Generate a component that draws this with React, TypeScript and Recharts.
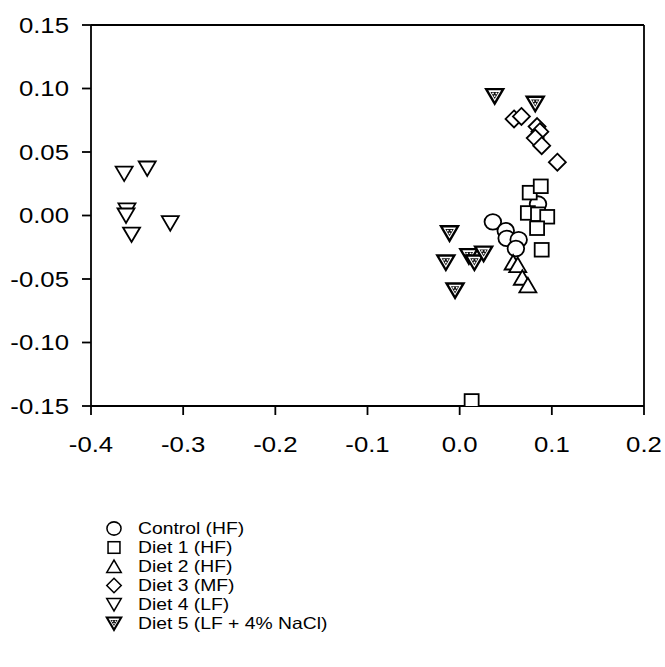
import { ScatterChart, Scatter, XAxis, YAxis, ReferenceLine } from 'recharts';

const controlHF = [
  { x: 0.036, y: -0.005 },
  { x: 0.05, y: -0.012 },
  { x: 0.051, y: -0.018 },
  { x: 0.064, y: -0.019 },
  { x: 0.061, y: -0.026 },
  { x: 0.085, y: 0.009 },
];
const diet1 = [
  { x: 0.076, y: 0.018 },
  { x: 0.088, y: 0.023 },
  { x: 0.074, y: 0.002 },
  { x: 0.085, y: 0.001 },
  { x: 0.095, y: -0.001 },
  { x: 0.084, y: -0.01 },
  { x: 0.089, y: -0.027 },
  { x: 0.013, y: -0.146 },
];
const diet2 = [
  { x: 0.058, y: -0.037 },
  { x: 0.063, y: -0.039 },
  { x: 0.068, y: -0.049 },
  { x: 0.074, y: -0.055 },
];
const diet3 = [
  { x: 0.059, y: 0.076 },
  { x: 0.067, y: 0.078 },
  { x: 0.084, y: 0.07 },
  { x: 0.087, y: 0.066 },
  { x: 0.082, y: 0.061 },
  { x: 0.089, y: 0.055 },
  { x: 0.106, y: 0.042 },
];
const diet4 = [
  { x: -0.364, y: 0.033 },
  { x: -0.339, y: 0.037 },
  { x: -0.361, y: 0.004 },
  { x: -0.362, y: 0.0 },
  { x: -0.356, y: -0.015 },
  { x: -0.314, y: -0.006 },
];
const diet5 = [
  { x: 0.038, y: 0.094 },
  { x: 0.082, y: 0.088 },
  { x: -0.011, y: -0.014 },
  { x: -0.015, y: -0.037 },
  { x: -0.005, y: -0.059 },
  { x: 0.01, y: -0.032 },
  { x: 0.016, y: -0.037 },
  { x: 0.026, y: -0.03 },
];

const xTicks = [-0.4, -0.3, -0.2, -0.1, 0, 0.1, 0.2];
const yTicks = [-0.15, -0.1, -0.05, 0, 0.05, 0.1, 0.15];

const FONT = '"Liberation Sans", Arial, Helvetica, sans-serif';
const STRETCH = 1.17;

type Kind = 'circle' | 'square' | 'up' | 'diamond' | 'down' | 'salt';

function Marker({ kind, cx, cy }: { kind: Kind; cx: number; cy: number }) {
  const s = { fill: '#fff', stroke: '#000', strokeWidth: 1.8 };
  if (kind === 'circle') return <ellipse cx={cx} cy={cy} rx={8.3} ry={7.8} {...s} />;
  if (kind === 'square') return <rect x={cx - 7} y={cy - 6.8} width={14} height={13.6} {...s} />;
  if (kind === 'up')
    return <polygon points={`${cx - 8.5},${cy + 7} ${cx + 8.5},${cy + 7} ${cx},${cy - 7.5}`} {...s} />;
  if (kind === 'diamond')
    return <polygon points={`${cx},${cy - 8.5} ${cx + 8.5},${cy} ${cx},${cy + 8.5} ${cx - 8.5},${cy}`} {...s} />;
  if (kind === 'down')
    return <polygon points={`${cx - 8.5},${cy - 7} ${cx + 8.5},${cy - 7} ${cx},${cy + 7.5}`} {...s} />;
  return (
    <g>
      <polygon
        points={`${cx - 8.5},${cy - 7} ${cx + 8.5},${cy - 7} ${cx},${cy + 7.5}`}
        fill="#fff"
        stroke="#000"
        strokeWidth={2.4}
      />
      <polygon points={`${cx - 4.2},${cy - 4.2} ${cx + 4.2},${cy - 4.2} ${cx},${cy + 3}`} fill="#111" />
      <circle cx={cx - 1.7} cy={cy - 2.7} r={0.9} fill="#fff" />
      <circle cx={cx + 1.7} cy={cy - 2.7} r={0.9} fill="#fff" />
      <circle cx={cx} cy={cy} r={0.9} fill="#fff" />
    </g>
  );
}

const shape = (kind: Kind) => (p: any) => <Marker kind={kind} cx={p.cx} cy={p.cy} />;

// the source figure's text is a bit wider than it is tall
function Tick(props: any) {
  const { x, y, payload, textAnchor, digits, axis } = props;
  const label = Number(payload.value).toFixed(digits);
  return (
    <text
      transform={`translate(${x},${y}) scale(${STRETCH},1)`}
      textAnchor={textAnchor}
      dy={axis === 'x' ? '0.71em' : '0.355em'}
      fill="#000"
      fontSize={22}
      fontFamily={FONT}
    >
      {label}
    </text>
  );
}

const series: { name: string; data: { x: number; y: number }[]; kind: Kind }[] = [
  { name: 'Control (HF)', data: controlHF, kind: 'circle' },
  { name: 'Diet 1 (HF)', data: diet1, kind: 'square' },
  { name: 'Diet 2 (HF)', data: diet2, kind: 'up' },
  { name: 'Diet 3 (MF)', data: diet3, kind: 'diamond' },
  { name: 'Diet 4 (LF)', data: diet4, kind: 'down' },
  { name: 'Diet 5 (LF + 4% NaCl)', data: diet5, kind: 'salt' },
];

export default function App() {
  return (
    <div style={{ position: 'absolute', left: 0, top: 0, width: 665, height: 667, background: '#fff' }}>
      <ScatterChart width={665} height={470} margin={{ top: 25, right: 21, left: 0, bottom: 0 }}>
        <XAxis
          type="number"
          dataKey="x"
          domain={[-0.4, 0.2]}
          ticks={xTicks}
          height={64}
          tickSize={9}
          tickMargin={21}
          tick={<Tick digits={1} axis="x" />}
          stroke="#000"
          strokeWidth={1.8}
          allowDataOverflow
        />
        <YAxis
          type="number"
          dataKey="y"
          domain={[-0.15, 0.15]}
          ticks={yTicks}
          width={91}
          tickSize={9}
          tickMargin={13}
          tick={<Tick digits={2} axis="y" />}
          stroke="#000"
          strokeWidth={1.8}
          allowDataOverflow
        />
        <ReferenceLine y={0.15} stroke="#000" strokeWidth={1.8} />
        <ReferenceLine x={0.2} stroke="#000" strokeWidth={1.8} />
        {series.map((s) => (
          <Scatter
            key={s.name}
            name={s.name}
            data={s.data}
            shape={shape(s.kind)}
            isAnimationActive={false}
          />
        ))}
      </ScatterChart>
      <div style={{ position: 'absolute', left: 104, top: 519, fontFamily: FONT, fontSize: 16.5, color: '#000' }}>
        {series.map((s) => (
          <div key={s.name} style={{ display: 'flex', alignItems: 'center', height: 19 }}>
            <svg width={20} height={19}>
              <g transform="translate(10,9.5) scale(0.85) translate(-10,-9.5)">
                <Marker kind={s.kind} cx={10} cy={9.5} />
              </g>
            </svg>
            <span
              style={{
                marginLeft: 14,
                whiteSpace: 'nowrap',
                display: 'inline-block',
                transform: `scaleX(${STRETCH})`,
                transformOrigin: 'left center',
              }}
            >
              {s.name}
            </span>
          </div>
        ))}
      </div>
    </div>
  );
}
